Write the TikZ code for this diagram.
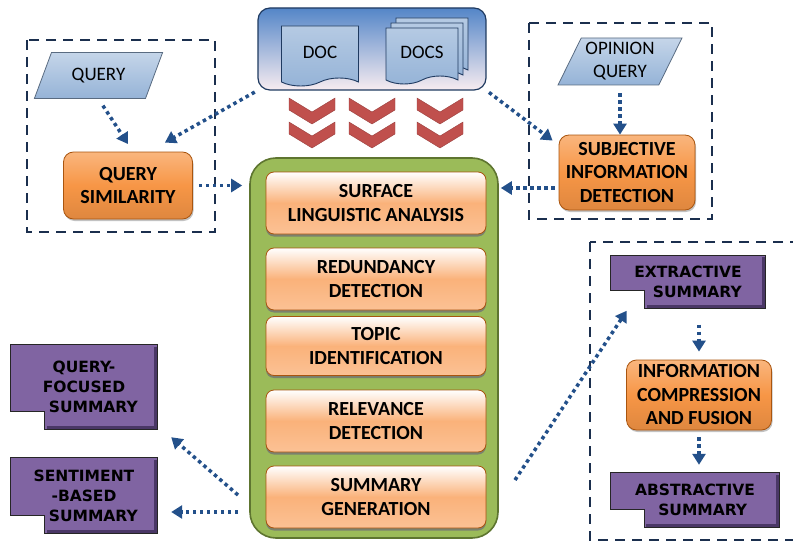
\documentclass[tikz,border=0pt]{standalone}
\usepackage{fontspec}
\setmainfont{Carlito}
\newfontfamily\sumfont{DejaVu Sans}
\usetikzlibrary{shapes.geometric, shapes.symbols, arrows.meta, shadows, backgrounds}

\definecolor{navy}{HTML}{1B2F4E}
\definecolor{arrowblue}{HTML}{23508A}
\definecolor{docblue}{HTML}{95B3D7}
\definecolor{docedge}{HTML}{1F3A60}
\definecolor{kernelgreen}{HTML}{9BBB59}
\definecolor{greenedge}{HTML}{5E7530}
\definecolor{chevred}{HTML}{C0504D}
\definecolor{orangefill}{HTML}{F79646}
\definecolor{orangeedge}{HTML}{A9550F}
\definecolor{peach}{HTML}{FAB27A}
\definecolor{sumpurple}{HTML}{8064A2}
\definecolor{sumdark}{HTML}{4A3766}

% notched outline of a summary box
\newcommand{\notchpath}[1]{(#1.north west) -- (#1.north east) -- (#1.south east)
  -- ([xshift=34pt]#1.south west) -- ([xshift=34pt,yshift=18pt]#1.south west)
  -- ([yshift=18pt]#1.south west) -- cycle}

\begin{document}
\begin{tikzpicture}[x=1pt, y=-1pt,
  stage/.style={draw=orangeedge, line width=0.8pt, rounded corners=8pt,
    top color=white, bottom color=peach!80, middle color=peach,
    minimum width=220pt, minimum height=62pt, align=center,
    drop shadow={shadow xshift=0pt, shadow yshift=-2.5pt, fill=black!55, opacity=0.8},
    font=\bfseries\fontsize{20}{23.5}\selectfont},
  process/.style={draw=orangeedge, line width=0.8pt, rounded corners=10pt,
    top color=orangefill!70!white, bottom color=orangefill!90!black, middle color=orangefill,
    drop shadow={shadow xshift=1pt, shadow yshift=-2pt, fill=black!40, opacity=0.6},
    align=center, font=\bfseries\fontsize{20}{23.5}\selectfont},
  input/.style={trapezium, trapezium left angle=63, trapezium right angle=117,
    trapezium stretches=true, draw=docblue!60!black, line width=0.8pt,
    top color=docblue!55!white, bottom color=docblue, align=center,
    font=\fontsize{19}{23}\selectfont},
  sheet/.style={tape, tape bend top=none, tape bend height=8pt, draw=docedge,
    line width=0.9pt, top color=docblue!70!white, bottom color=docblue,
    minimum width=72pt, minimum height=56pt, font=\fontsize{19}{22}\selectfont},
  summary/.style={align=center, font=\sumfont\bfseries\fontsize{15.5}{20}\selectfont},
  group/.style={draw=navy, line width=2.2pt, dash pattern=on 10pt off 7pt},
  flow/.style={draw=arrowblue, line width=3.5pt, dash pattern=on 3.5pt off 3.5pt,
    -{Triangle[length=11pt,width=13pt]}},
  chevron/.style={fill=chevred, draw=chevred!80!black, line width=0.4pt}]

\useasboundingbox (0,0) rectangle (793,543);

% groups
\draw[group] (27,40) rectangle (215,232);
\draw[group] (529,23) rectangle (712,219);
\draw[group] (590,242) rectangle (805,540);

% documents
\node (source) at (372,49) [draw=docedge, line width=1.2pt, rounded corners=12pt,
  top color={rgb,255:red,84;green,134;blue,200}, bottom color={rgb,255:red,247;green,236;blue,240},
  minimum width=228pt, minimum height=82pt] {};
\node (doc) at (320,52) [sheet, minimum width=77pt, minimum height=60pt] {DOC};
\node (docsb) at (432,42) [sheet] {};
\node (docsm) at (427,47) [sheet] {};
\node (docs) at (422,52) [sheet] {DOCS};

\foreach \cx in {312,372,440}
  \foreach \cy in {98,122}
    \draw[chevron] (\cx-23,\cy) -- (\cx,\cy+14) -- (\cx+23,\cy) -- (\cx+23,\cy+12)
      -- (\cx,\cy+26) -- (\cx-23,\cy+12) -- cycle;

% pipeline
\node (kernel) at (374,348) [draw=greenedge, line width=1.6pt, rounded corners=26pt,
  fill=kernelgreen, minimum width=248pt, minimum height=380pt] {};
\node (surface) at (376,203) [stage] {SURFACE\\LINGUISTIC ANALYSIS};
\node (redund) at (376,279) [stage] {REDUNDANCY\\DETECTION};
\node (topic) at (376,346) [stage, minimum height=59pt] {TOPIC\\IDENTIFICATION};
\node (relev) at (376,421) [stage] {RELEVANCE\\DETECTION};
\node (gen) at (376,497) [stage] {SUMMARY\\GENERATION};

% query side
\node (query) at (98.5,75.5) [input, minimum width=129pt, minimum height=46pt] {QUERY};
\node (simnode) at (128,185.5) [process, minimum width=129pt, minimum height=67pt] {QUERY\\SIMILARITY};
\node (opinion) at (620,61.5) [input, minimum width=124pt, minimum height=47pt] {OPINION\\QUERY};
\node (subj) at (627,172.5) [process, minimum width=136pt, minimum height=75pt] {SUBJECTIVE\\INFORMATION\\DETECTION};

% outputs
\node (extract) at (688,282) [summary, minimum width=154pt, minimum height=53pt] {EXTRACTIVE\\\hspace*{1.2em}SUMMARY};
\node (fusion) at (699,395) [process, minimum width=145pt, minimum height=70pt] {INFORMATION\\COMPRESSION\\AND FUSION};
\node (abstract) at (695,500) [summary, minimum width=169pt, minimum height=54pt] {ABSTRACTIVE\\\hspace*{1.0em}SUMMARY};
\node (qfocus) at (84,387) [summary, minimum width=146pt, minimum height=84pt] {QUERY-\\FOCUSED\\\hspace*{1.2em}SUMMARY};
\node (senti) at (84,495.5) [summary, minimum width=146pt, minimum height=75pt] {SENTIMENT\\-BASED\\\hspace*{1.2em}SUMMARY};

\begin{pgfonlayer}{background}
  \foreach \s in {extract,abstract,qfocus,senti} {
    \fill[sumpurple] \notchpath{\s};
    \draw[sumdark, line width=3pt] ([xshift=-2pt,yshift=-2pt]\s.north east)
      -- ([xshift=-2pt,yshift=2pt]\s.south east) -- ([xshift=36pt,yshift=2pt]\s.south west);
    \draw[black!85, line width=1.1pt] \notchpath{\s};
  }
\end{pgfonlayer}

% connectors
\coordinate (subjout) at ([yshift=-15.5pt]subj.west);
\coordinate (genright) at (515,480);
\coordinate (genleft) at (238,495);
\coordinate (genbase) at (238,512);

\draw[flow, shorten <=8pt, shorten >=9pt] (query.south) -- ([xshift=5pt]simnode.north);
\draw[flow, shorten <=3pt] (source.south west) -- ([xshift=-28pt,yshift=9pt]simnode.north east);
\draw[flow, shorten <=6pt, shorten >=7pt] (simnode.east) -- (simnode.east -| kernel.west);
\draw[flow, shorten <=3pt] (source.south east) -- ([xshift=-6pt,yshift=-6pt]subj.north west);
\draw[flow, shorten <=8pt] (opinion.south) -- (opinion.south |- subj.north);
\draw[flow, shorten <=4pt, shorten >=2pt] (subjout) -- (subjout -| kernel.east);
\draw[flow] (genright) -- ([xshift=16pt,yshift=-2pt]extract.south west);
\draw[flow, shorten <=16pt, shorten >=8pt] (fusion.north |- extract.south) -- (fusion.north);
\draw[flow, shorten <=7pt, shorten >=8pt] (fusion.south) -- (fusion.south |- abstract.north);
\draw[flow] (genleft) -- ([xshift=14pt,yshift=-8pt]qfocus.south east);
\draw[flow, shorten >=14pt] (genbase) -- (genbase -| senti.east);

\end{tikzpicture}
\end{document}
